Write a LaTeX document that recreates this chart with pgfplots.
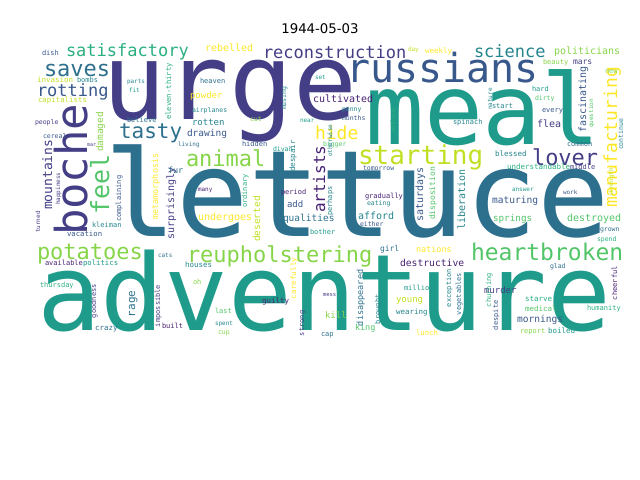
\documentclass[border=0pt]{standalone}
\usepackage{pgfplots}
\pgfplotsset{compat=1.18}
\usepackage{pgfplotstable}
\usepackage{fontspec}
\setmainfont{DejaVu Sans}
\newfontfamily\wcfont{DejaVu Sans Mono}
\definecolor{v0}{HTML}{440154}
\definecolor{v1}{HTML}{482173}
\definecolor{v2}{HTML}{433E85}
\definecolor{v3}{HTML}{38588C}
\definecolor{v4}{HTML}{2D708E}
\definecolor{v5}{HTML}{25858E}
\definecolor{v6}{HTML}{1E9B8A}
\definecolor{v7}{HTML}{2AB07F}
\definecolor{v8}{HTML}{52C569}
\definecolor{v9}{HTML}{86D549}
\definecolor{v10}{HTML}{C2DF23}
\definecolor{v11}{HTML}{FDE725}
% x y = baseline start (px from top-left), s = font size px, r = rotation, c = colour index
\pgfplotstableread{
x y s r c w
104 237 120 0 4 lettuce
37 330 106 0 6 adventure
102 120 106 0 2 urge
365 145 98 0 6 meal
346 83 40 0 3 russians
87 236 44 90 2 boche
358 165 26 0 10 starting
109 215 25 90 8 feel
471 260 23 0 8 heartbroken
187 262 22 0 9 reupholstering
37 259 22 0 9 potatoes
186 167 22 0 9 animal
532 166 22 0 2 lover
44 77 22 0 4 saves
119 139 21 0 4 tasty
617 208 18 90 11 manufacturing
315 140 18 0 11 hide
263 59 17 0 2 reconstruction
66 57 17 0 7 satisfactory
474 58 17 0 5 science
37 97 17 0 3 rotting
325 213 16 90 1 artists
52 210 13 90 2 mountains
313 103 10 0 1 cultivated
554 55 10 0 9 politicians
400 266 9.7 0 1 destructive
205 52 10 0 11 rebelled
174 240 10 90 2 surprisingly
198 221 10 0 11 undergoes
567 222 10 0 8 destroyed
465 230 10 90 5 liberation
423 222 10 90 3 saturdays
586 133 10 90 3 fascinating
537 128 10 0 2 flea
358 220 10 0 5 afford
517 322 9.6 0 3 mornings
492 204 9.6 0 3 maturing
187 137 9.5 0 3 drawing
283 222 9.5 0 4 qualities
103 152 9.5 90 9 damaged
260 242 9.5 90 10 deserted
493 222 9.3 0 8 springs
190 99 9 0 11 powder
192 126 9 0 5 rotten
484 293 9 0 2 murder
396 302 9 0 10 young
325 318 9 0 9 kill
287 208 9 0 3 add
416 253 8.5 0 11 nations
355 330 8.5 0 8 king
363 326 8.5 90 4 disappeared
158 220 8.5 90 11 metamorphosis
168 174 8.5 0 4 fur
435 220 8 90 8 disposition
380 252 8 0 4 girl
573 65 8 0 2 mars
296 299 7.6 90 11 carefully
37 83 7.5 0 10 invasion
95 330 7.5 0 4 crazy
185 267 7.5 0 5 houses
262 303 7.5 0 1 guilty
396 314 7.5 0 5 wearing
525 301 7.5 0 7 starve
525 311 7.5 0 8 medical
548 333 7.5 0 6 boiled
507 170 7.5 0 7 understandable
495 157 7.5 0 5 blessed
425 54 7.5 0 11 weekly
295 172 7.5 90 5 despair
38 103 7.4 0 10 capitalists
171 120 7.3 90 7 eleven-thirty
67 237 7.3 0 3 vacation
83 265 7.3 0 6 politics
416 335 7.3 0 11 lunch
42 56 7 0 3 dish
77 83 7 0 5 bombs
127 123 7 0 4 believe
200 84 7 0 4 heaven
92 228 7 0 5 kleiman
45 265 7 0 1 available
40 287 7 0 7 thursday
162 328 7 0 1 built
193 284 7 0 9 oh
215 313 7 0 8 last
321 336 7 0 4 cap
404 290 7 0 6 millions
520 333 7 0 9 report
587 310 7 0 7 humanity
570 170 7 0 2 middle
567 147 7 0 4 common
605 74 7 0 9 new
543 65 7 0 9 beauty
532 92 7 0 6 hard
542 113 7 0 3 every
492 109 7 0 5 start
453 125 7 0 5 spinach
242 147 7 0 3 hidden
281 195 7 0 1 period
365 199 7 0 1 gradually
310 235 7 0 6 bother
121 222 7 90 3 complaining
96 318 7 90 2 goodness
160 327 7 90 2 impossible
304 336 7 90 2 strong
380 324 7 90 5 brought
451 307 7 90 5 exception
461 315 7 90 4 vegetables
491 307 7 90 7 churning
498 330 7 90 3 despite
617 300 7 90 1 cheerful
247 208 7 90 7 ordinary
332 216 7 90 5 perhaps
135 317 11 90 4 rage
192 113 6.5 0 5 airplanes
35 125 6.5 0 2 people
43 139 6.5 0 3 cereal
218 334 6.5 0 9 cup
550 268 6.5 0 4 glad
597 242 6.5 0 7 spend
600 232 6.5 0 4 grown
535 101 6.5 0 8 dirty
250 122 6.5 0 9 cut
342 112 6.5 0 5 penny
342 121 6.5 0 3 months
273 152 6.5 0 6 divan
323 147 6.5 0 8 bigger
363 171 6.5 0 3 tomorrow
367 206 6.5 0 5 eating
360 227 6.5 0 3 either
623 150 6.5 90 5 continue
286 110 6.5 90 5 musing
127 84 6 0 5 parts
129 93 6 0 6 fit
178 147 6 0 4 living
198 192 6 0 1 many
158 257 6 0 4 cats
215 325 6 0 5 spent
512 192 6 0 6 answer
563 195 6 0 3 work
408 52 6 0 10 day
315 80 6 0 6 set
300 123 6 0 6 near
60 205 6 90 2 happiness
40 233 6 90 2 turned
613 197 6 90 10 strength
593 128 6 90 8 question
492 110 6 90 5 nature
395 133 6 90 7 england
332 157 6 90 5 otherwise
323 296 5.5 0 2 mess
87 147 5 0 2 mar
}\words
\begin{document}
\begin{tikzpicture}
\begin{axis}[
  scale only axis, width=640bp, height=480bp,
  xmin=0, xmax=640, ymin=0, ymax=480, y dir=reverse,
  hide axis, clip=false,
]
\path (rel axis cs:0,0) rectangle (rel axis cs:1,1);
\addplot[only marks, mark=none,
  point meta=explicit symbolic,
  visualization depends on={\thisrow{s}\as\wsz},
  visualization depends on={\thisrow{r}\as\wrot},
  visualization depends on={\thisrow{c}\as\wci},
  nodes near coords,
  nodes near coords style={/utils/exec={\pgfmathtruncatemacro\wcc{\wci}},
    anchor=base west, inner sep=0pt, outer sep=0pt,
    rotate=\wrot, text=v\wcc, font=\wcfont\fontsize{\wsz bp}{\wsz bp}\selectfont},
] table[x=x, y=y, meta=w] {\words};
\node[anchor=base, inner sep=0pt, font=\fontsize{13.3bp}{16bp}\selectfont] at (axis cs:320,34) {1944-05-03};
\end{axis}
\end{tikzpicture}
\end{document}
